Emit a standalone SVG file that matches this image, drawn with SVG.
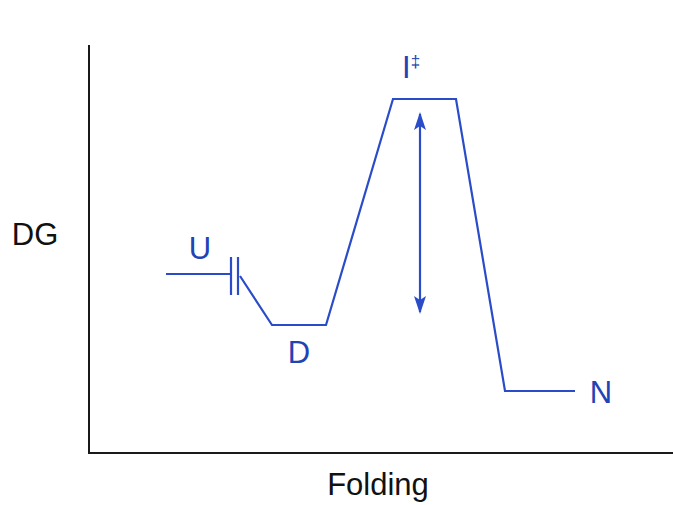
<svg xmlns="http://www.w3.org/2000/svg" width="673" height="505" viewBox="0 0 673 505">
<defs>
<style>
.ax{fill:none;stroke:#1a1a1a;stroke-width:2}
.pf{fill:none;stroke:#2a4cc8;stroke-width:2.2;stroke-linejoin:miter}
.lb{font-family:"Liberation Sans",Arial,sans-serif;font-size:31px;fill:#2243b4}
.al{font-family:"Liberation Sans",Arial,sans-serif;font-size:31px;fill:#111}
</style>
<marker id="ah" viewBox="0 0 18 12" refX="16" refY="6" markerWidth="18" markerHeight="12" markerUnits="userSpaceOnUse" orient="auto-start-reverse">
<path d="M0,0 L18,6 L0,12 L4,6 Z" fill="#2a4cc8"/>
</marker>
</defs>
<g id="axes">
<path class="ax" d="M89,45 V453 H673"/>
</g>
<g id="connectors">
<path class="pf" d="M166,274 H231"/>
<path class="pf" d="M231,257 V295 M238,257 V295"/>
<path class="pf" d="M240,276 L272,325 H326 L393,99 H456 L505,391 H575"/>
<path class="pf" d="M420,114 V312" marker-start="url(#ah)" marker-end="url(#ah)"/>
</g>
<g id="node-U"><text class="lb" x="200" y="259" text-anchor="middle">U</text></g>
<g id="node-D"><text class="lb" x="299" y="363" text-anchor="middle">D</text></g>
<g id="node-I"><text class="lb" x="402" y="78">I<tspan font-size="17" dy="-11">‡</tspan></text></g>
<g id="node-N"><text class="lb" x="601" y="403" text-anchor="middle">N</text></g>
<g id="label-DG"><text class="al" x="35" y="245" text-anchor="middle">DG</text></g>
<g id="label-Folding"><text class="al" x="378" y="495" text-anchor="middle">Folding</text></g>
</svg>
